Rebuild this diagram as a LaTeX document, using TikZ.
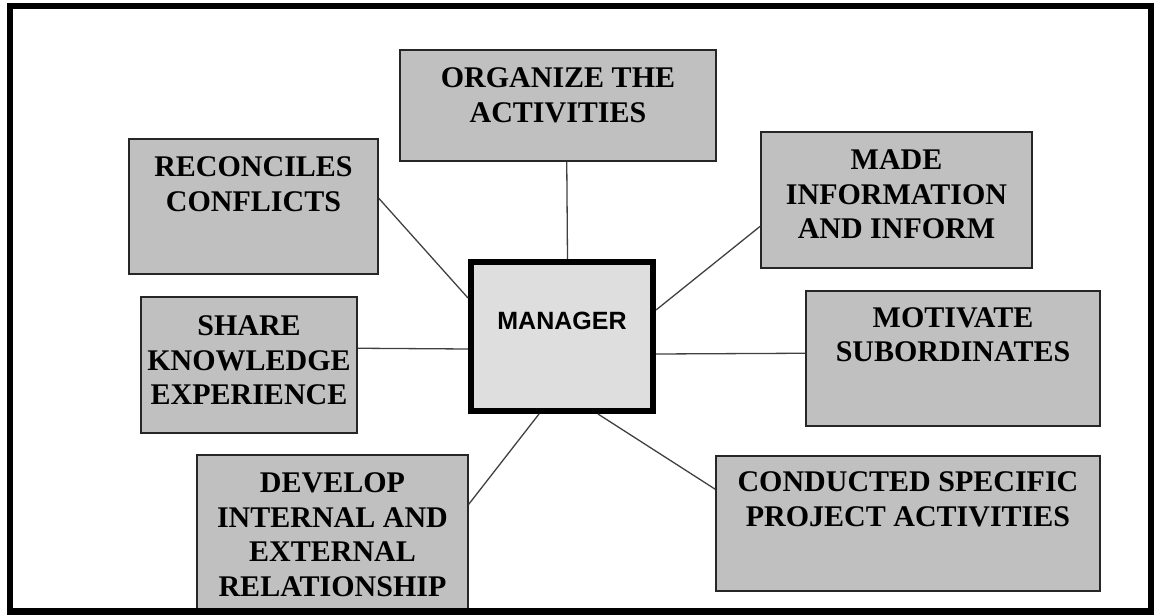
\documentclass[tikz,border=0pt]{standalone}
\usepackage{fontspec}
\setmainfont{Liberation Serif}
\newfontfamily\mgrfont{Liberation Sans}
\usetikzlibrary{calc}
\definecolor{boxgray}{HTML}{C0C0C0}
\definecolor{mgrgray}{HTML}{DEDEDE}
\definecolor{linkgray}{HTML}{404040}
\tikzset{
  taskbox/.style={draw=black!85, line width=1.5pt, fill=boxgray, rectangle, inner sep=0pt},
  tasktext/.style={anchor=north, inner sep=0pt, align=center,
    font=\fontsize{30}{34.5}\selectfont\bfseries},
  hubbox/.style={draw=black, line width=6pt, fill=mgrgray, rectangle, inner sep=0pt,
    minimum width=182pt, minimum height=149pt},
  hubtext/.style={anchor=base, inner sep=0pt, font=\mgrfont\fontsize{25}{30}\selectfont\bfseries},
  link/.style={draw=linkgray, line width=1.3pt},
  frame/.style={draw=black, line width=6.5pt}
}
\begin{document}
\begin{tikzpicture}[x=1pt, y=-1pt]
\useasboundingbox (0,0) rectangle (1154,615);

% outer boxes (centre, size)
\node[taskbox, minimum width=316pt, minimum height=111pt] (org)   at (558,105.5) {};
\node[taskbox, minimum width=249pt, minimum height=135pt] (rc)    at (253.5,206.5) {};
\node[taskbox, minimum width=271pt, minimum height=136pt] (made)  at (896.5,200) {};
\node[taskbox, minimum width=216pt, minimum height=136pt] (share) at (249,365) {};
\node[taskbox, minimum width=294pt, minimum height=135pt] (mot)   at (953,358.5) {};
\node[taskbox, minimum width=271pt, minimum height=157pt] (dev)   at (332.5,533.5) {};
\node[taskbox, minimum width=384pt, minimum height=135pt] (cond)  at (908,523.5) {};

% central box
\node[hubbox] (mgr) at (562,336.5) {};
\node[hubtext] (mgrlabel) at (562,329) {MANAGER};

% box captions, set near the top edge
\node[tasktext] (orgtext)   at ($(org.north)+(0,18.5)$)   {ORGANIZE THE\\ACTIVITIES};
\node[tasktext] (rctext)    at ($(rc.north)+(0,18.5)$)    {RECONCILES\\CONFLICTS};
\node[tasktext] (madetext)  at ($(made.north)+(0,18.5)$)  {MADE\\INFORMATION\\AND INFORM};
\node[tasktext] (sharetext) at ($(share.north)+(0,19.5)$) {SHARE\\KNOWLEDGE\\EXPERIENCE};
\node[tasktext] (mottext)   at ($(mot.north)+(0,17)$)     {MOTIVATE\\SUBORDINATES};
\node[tasktext] (devtext)   at ($(dev.north)+(0,18.5)$)   {DEVELOP\\INTERNAL AND\\EXTERNAL\\RELATIONSHIP};
\node[tasktext] (condtext)  at ($(cond.north)+(0,16.5)$)  {CONDUCTED SPECIFIC\\PROJECT ACTIVITIES};

% spokes from the boxes to the manager
\draw[link] ($(org.south west)+(167.5,0)$) -- ($(mgr.north west)+(99.5,0)$);
\draw[link] ($(rc.north east)+(0,60)$)     -- ($(mgr.north west)+(0,39)$);
\draw[link] ($(made.north west)+(0,95)$)   -- ($(mgr.north east)+(0,51)$);
\draw[link] ($(share.north east)+(0,52)$)  -- ($(mgr.north west)+(0,90)$);
\draw[link] ($(mot.north west)+(0,63)$)    -- ($(mgr.north east)+(0,95)$);
\draw[link] ($(dev.north east)+(0,50)$)    -- ($(mgr.south west)+(71,0)$);
\draw[link] ($(cond.north west)+(0,34)$)   -- ($(mgr.south west)+(130,0)$);

% page frame
\draw[frame] (10,6) rectangle (1151,611.5);
\end{tikzpicture}
\end{document}
